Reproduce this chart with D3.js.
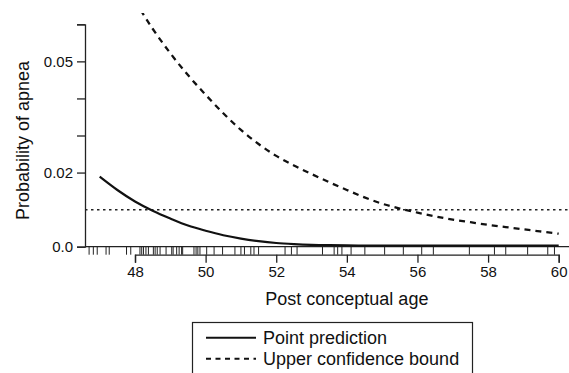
<!DOCTYPE html>
<html>
<head>
<meta charset="utf-8">
<script src="https://cdn.jsdelivr.net/npm/d3@7"></script>
<style>
  body { margin: 0; background: #fff; }
  svg { display: block; font-family: "Liberation Sans", Arial, sans-serif; }
</style>
</head>
<body>
<div id="chart"></div>
<script>
// ages on the fitted curve grid
var ages = [47, 47.5, 48, 48.5, 49, 49.5, 50, 50.5, 51, 51.5, 52, 52.5, 53, 53.5,
  54, 54.5, 55, 55.5, 56, 56.5, 57, 57.5, 58, 58.5, 59, 59.5, 60];
var pointPred = [0.0189, 0.0153, 0.0122, 0.0097, 0.0076, 0.0057, 0.0043, 0.0031,
  0.0022, 0.0015, 0.0010, 0.0007, 0.0005, 0.0004, 0.00035, 0.0003, 0.0003,
  0.0003, 0.0003, 0.0003, 0.0003, 0.0003, 0.0003, 0.0003, 0.0003, 0.0003, 0.0003];
var upperBound = [0.0849, 0.0749, 0.0664, 0.0588, 0.0522, 0.0463, 0.0410, 0.0360,
  0.0315, 0.0277, 0.0245, 0.0219, 0.0196, 0.0174, 0.0153, 0.0133, 0.0116, 0.0103,
  0.0092, 0.0082, 0.0073, 0.0066, 0.0059, 0.0053, 0.0047, 0.0041, 0.0035];
// observed ages (rug)
var rugAges = [46.70, 46.82, 46.93, 47.18, 47.27, 47.76, 47.88, 48.14, 48.19, 48.24,
  48.31, 48.38, 48.52, 48.57, 48.63, 48.71, 48.88, 49.04, 49.08, 49.18, 49.25, 49.32,
  49.35, 49.67, 49.73, 49.78, 49.84, 50.03, 50.24, 50.48, 50.83, 51.0, 51.10, 51.28,
  51.37, 51.50, 52.25, 52.43, 52.59, 53.31, 53.64, 53.74, 53.86, 54.12, 54.51, 55.07,
  55.60, 56.12, 56.45, 57.47, 58.18, 58.50, 59.12, 59.69, 59.88];
var threshold = 0.01;
var xTicks = [48, 50, 52, 54, 56, 58, 60];
var yTicks = [0, 0.02, 0.03, 0.04, 0.05, 0.06];
var yLabels = {0: "0.0", 0.02: "0.02", 0.05: "0.05"};
var legendItems = ["Point prediction", "Upper confidence bound"];

(function() {
  var width = 569, height = 373;
  var left = 85, right = 569, top = 13, zeroY = 246.7;
  var titleSize = 18;

  var svg = d3.select("#chart").append("svg")
    .attr("width", width)
    .attr("height", height);

  var x = d3.scaleLinear().domain([48, 60]).range([135, 558.7]);
  var y = d3.scaleLinear().domain([0, 0.06]).range([zeroY, 24.3]);

  svg.append("clipPath").attr("id", "plotclip")
    .append("rect")
    .attr("x", left).attr("y", top)
    .attr("width", right - left).attr("height", zeroY - top + 2);

  // y axis
  var yAxis = svg.append("g").attr("transform", "translate(" + left + ",0)")
    .call(d3.axisLeft(y).tickValues(yTicks).tickSizeOuter(0).tickSize(8)
      .tickFormat(function(d) { return yLabels[d] || ""; }));
  yAxis.select(".domain").attr("stroke", "#222").attr("stroke-width", 1.3);
  yAxis.selectAll(".tick line").attr("stroke", "#222").attr("stroke-width", 1.3);
  yAxis.selectAll(".tick text").attr("x", -12).attr("font-size", 15)
    .attr("fill", "#111").style("font-family", "Liberation Sans, Arial, sans-serif");

  // zero line
  svg.append("line")
    .attr("x1", left).attr("x2", right)
    .attr("y1", y(0)).attr("y2", y(0))
    .attr("stroke", "#222").attr("stroke-width", 1.3);

  // rug
  svg.append("g").selectAll("line")
    .data(rugAges)
    .enter().append("line")
    .attr("x1", function(d) { return x(d); })
    .attr("x2", function(d) { return x(d); })
    .attr("y1", zeroY)
    .attr("y2", zeroY + 8)
    .attr("stroke", "#222").attr("stroke-width", 1);

  // x axis
  var xAxis = svg.append("g").attr("transform", "translate(0," + (zeroY + 8) + ")")
    .call(d3.axisBottom(x).tickValues(xTicks).tickSizeOuter(0).tickSize(8)
      .tickFormat(d3.format("d")));
  xAxis.select(".domain").attr("stroke", "#222").attr("stroke-width", 1.3);
  xAxis.selectAll(".tick line").attr("stroke", "#222").attr("stroke-width", 1.3);
  xAxis.selectAll(".tick text").attr("y", 12).attr("font-size", 15)
    .attr("fill", "#111").style("font-family", "Liberation Sans, Arial, sans-serif");

  // threshold
  svg.append("line")
    .attr("x1", left).attr("x2", right)
    .attr("y1", y(threshold)).attr("y2", y(threshold))
    .attr("stroke", "#222").attr("stroke-width", 1.5)
    .attr("stroke-dasharray", "2.5,3.5");

  var line = d3.line().curve(d3.curveCatmullRom.alpha(0.5))
    .x(function(d) { return x(d[0]); })
    .y(function(d) { return y(d[1]); });

  var plotG = svg.append("g").attr("clip-path", "url(#plotclip)");

  plotG.append("path")
    .datum(d3.zip(ages, upperBound))
    .attr("d", line)
    .attr("fill", "none").attr("stroke", "#111")
    .attr("stroke-width", 2.3).attr("stroke-dasharray", "6,5");

  plotG.append("path")
    .datum(d3.zip(ages, pointPred))
    .attr("d", line)
    .attr("fill", "none").attr("stroke", "#111")
    .attr("stroke-width", 2.2);

  // axis titles
  svg.append("text")
    .attr("x", (x(48) + x(60)) / 2).attr("y", 305)
    .attr("text-anchor", "middle").attr("font-size", titleSize).attr("fill", "#111")
    .text("Post conceptual age");

  svg.append("text")
    .attr("transform", "translate(29," + ((24.3 + zeroY) / 2 + 5) + ") rotate(-90)")
    .attr("text-anchor", "middle").attr("font-size", titleSize).attr("fill", "#111")
    .text("Probability of apnea");

  // legend
  var legend = svg.append("g");
  legend.append("rect")
    .attr("x", 192.5).attr("y", 322.5)
    .attr("width", 280).attr("height", 60)
    .attr("fill", "none").attr("stroke", "#222").attr("stroke-width", 1.2);

  legend.selectAll(".item")
    .data(legendItems)
    .enter().append("g")
    .attr("class", "item")
    .attr("transform", function(d, i) { return "translate(0," + (337.7 + i * 21) + ")"; })
    .each(function(d, i) {
      var g = d3.select(this);
      g.append("line")
        .attr("x1", 206).attr("x2", 256)
        .attr("stroke", "#111").attr("stroke-width", 2)
        .attr("stroke-dasharray", i === 1 ? "5,4.5" : null);
      g.append("text")
        .attr("x", 263).attr("y", 6.5)
        .attr("font-size", titleSize).attr("fill", "#111")
        .text(d);
    });
})();
</script>
</body>
</html>
